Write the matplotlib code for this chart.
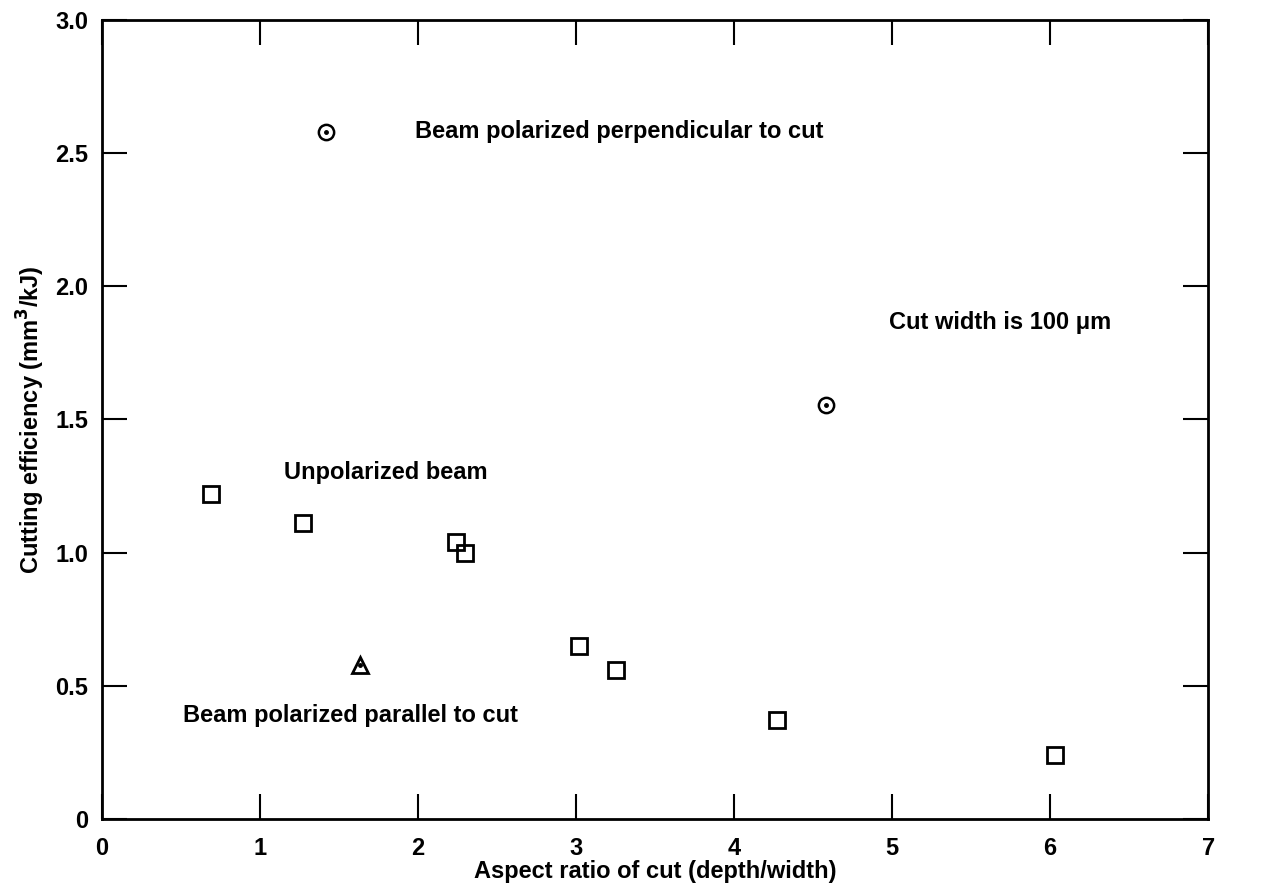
import matplotlib.pyplot as plt
import matplotlib as mpl

mpl.rc('font', family=['Liberation Sans', 'DejaVu Sans'], weight='bold')
mpl.rc('axes', labelweight='bold')

# 편광 안 된 빔 (unpolarized)
unpol_x = [0.69, 1.27, 2.24, 2.30, 3.02, 3.25, 4.27, 6.03]
unpol_y = [1.22, 1.11, 1.04, 1.00, 0.65, 0.56, 0.37, 0.24]
# 절단면에 수직 편광
perp_x = [1.42, 4.58]
perp_y = [2.58, 1.555]
# 절단면에 평행 편광
para_x = [1.63]
para_y = [0.58]

xticks = [0, 1, 2, 3, 4, 5, 6, 7]
yticks = [0, 0.5, 1.0, 1.5, 2.0, 2.5, 3.0]
ytick_labels = ['0', '0.5', '1.0', '1.5', '2.0', '2.5', '3.0']

fig = plt.figure()
fig.set_size_inches(12.65, 8.88)
axe = fig.add_axes([0.0806, 0.0777, 0.8744, 0.8998])

axe.plot(unpol_x, unpol_y, 's', ms=12, mfc='none', mec='black', mew=2)
axe.plot(perp_x, perp_y, 'o', ms=11, mfc='none', mec='black', mew=1.8)
axe.plot(perp_x, perp_y, 'o', ms=2.5, color='black')
axe.plot(para_x, para_y, '^', ms=12, mfc='none', mec='black', mew=2)
axe.plot(para_x, para_y, 'o', ms=2.5, color='black')

axe.set_xlim(0, 7)
axe.set_ylim(0, 3.0)
axe.set_xticks(xticks)
axe.set_yticks(yticks)
axe.set_yticklabels(ytick_labels)
axe.tick_params(direction='in', length=18, width=1.5, labelsize=17,
                top=True, right=True)
axe.tick_params(axis='x', pad=13)
axe.tick_params(axis='y', pad=10)
for sp in axe.spines.values():
    sp.set_linewidth(2)

axe.set_xlabel('Aspect ratio of cut (depth/width)', fontsize=17, labelpad=0)
axe.set_ylabel('Cutting efficiency (mm$^\\mathbf{3}$/kJ)', fontsize=17, labelpad=6)

kw = dict(fontsize=17, va='center', ha='left')
axe.text(1.98, 2.58, 'Beam polarized perpendicular to cut', **kw)
axe.text(4.98, 1.866, 'Cut width is 100 \u03bcm', **kw)
axe.text(1.15, 1.30, 'Unpolarized beam', **kw)
axe.text(0.51, 0.39, 'Beam polarized parallel to cut', **kw)

plt.savefig('out.png', dpi=100)
